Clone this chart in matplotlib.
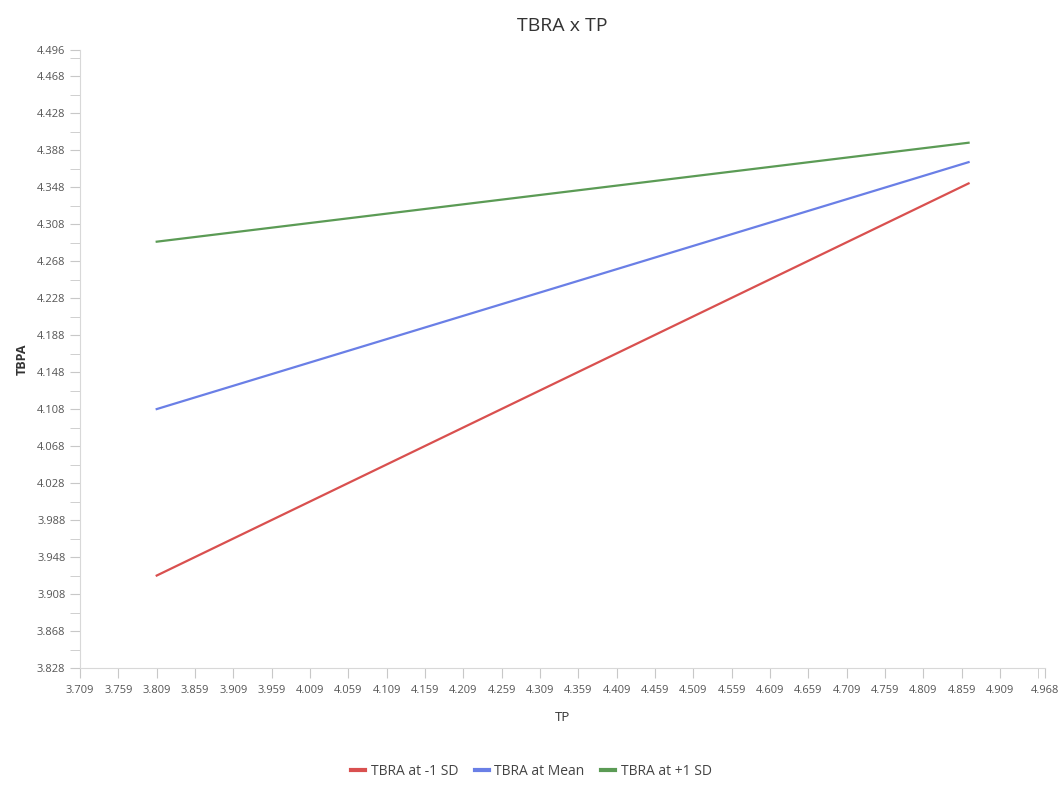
import numpy as np
import matplotlib.pyplot as plt

plt.rcParams['font.family'] = ['Open Sans', 'DejaVu Sans']

tp = [3.809, 4.868]
low_sd = [3.928, 4.352]
mean = [4.108, 4.375]
high_sd = [4.289, 4.396]
names = ['TBRA at -1 SD', 'TBRA at Mean', 'TBRA at +1 SD']
colors = ['#d9504f', '#6a7fe6', '#5b9b55']

x_min, x_max = 3.709, 4.968
y_min, y_max = 3.828, 4.496

fig = plt.figure(figsize=(10.63, 7.85), dpi=100)
ax = fig.add_axes([0.0753, 0.149, 0.908, 0.787])

for vals, name, c in zip([low_sd, mean, high_sd], names, colors):
    ax.plot(tp, vals, color=c, linewidth=1.6, label=name)

ax.set_xlim(x_min, x_max)
ax.set_ylim(y_min, y_max)

xt = list(np.round(np.arange(x_min, 4.93, 0.05), 3)) + [x_max]
yt = list(np.round(np.arange(y_min, 4.48, 0.04), 3)) + [y_max]
ax.set_xticks(xt)
ax.set_xticklabels(['%.3f' % v for v in xt])
ax.set_yticks(yt)
ax.set_yticklabels(['%.3f' % v for v in yt])
ax.set_xticks([4.959], minor=True)
ax.set_yticks(list(np.round(np.arange(y_min + 0.02, y_max, 0.04), 3)), minor=True)

for s in ['top', 'right']:
    ax.spines[s].set_visible(False)
for s in ['left', 'bottom']:
    ax.spines[s].set_color('#d8d8d8')
ax.tick_params(which='both', colors='#c8c8c8', labelcolor='#555555', labelsize=8, length=7)
ax.tick_params(axis='x', pad=5)

ax.set_title('TBRA x TP', fontsize=14, color='#333333', pad=14)
ax.set_xlabel('TP', fontsize=9.5, color='#333333', labelpad=11)
ax.set_ylabel('TBPA', fontsize=9, color='#333333', fontweight='bold', labelpad=6)

fig.legend(loc='lower center', bbox_to_anchor=(0.5, -0.008), ncol=3, frameon=False,
           fontsize=10, handlelength=1.0, handletextpad=0.4, columnspacing=1.2,
           labelcolor='#444444')
for line in fig.legends[0].get_lines():
    line.set_linewidth(3)

fig.savefig('out.png', dpi=100)
